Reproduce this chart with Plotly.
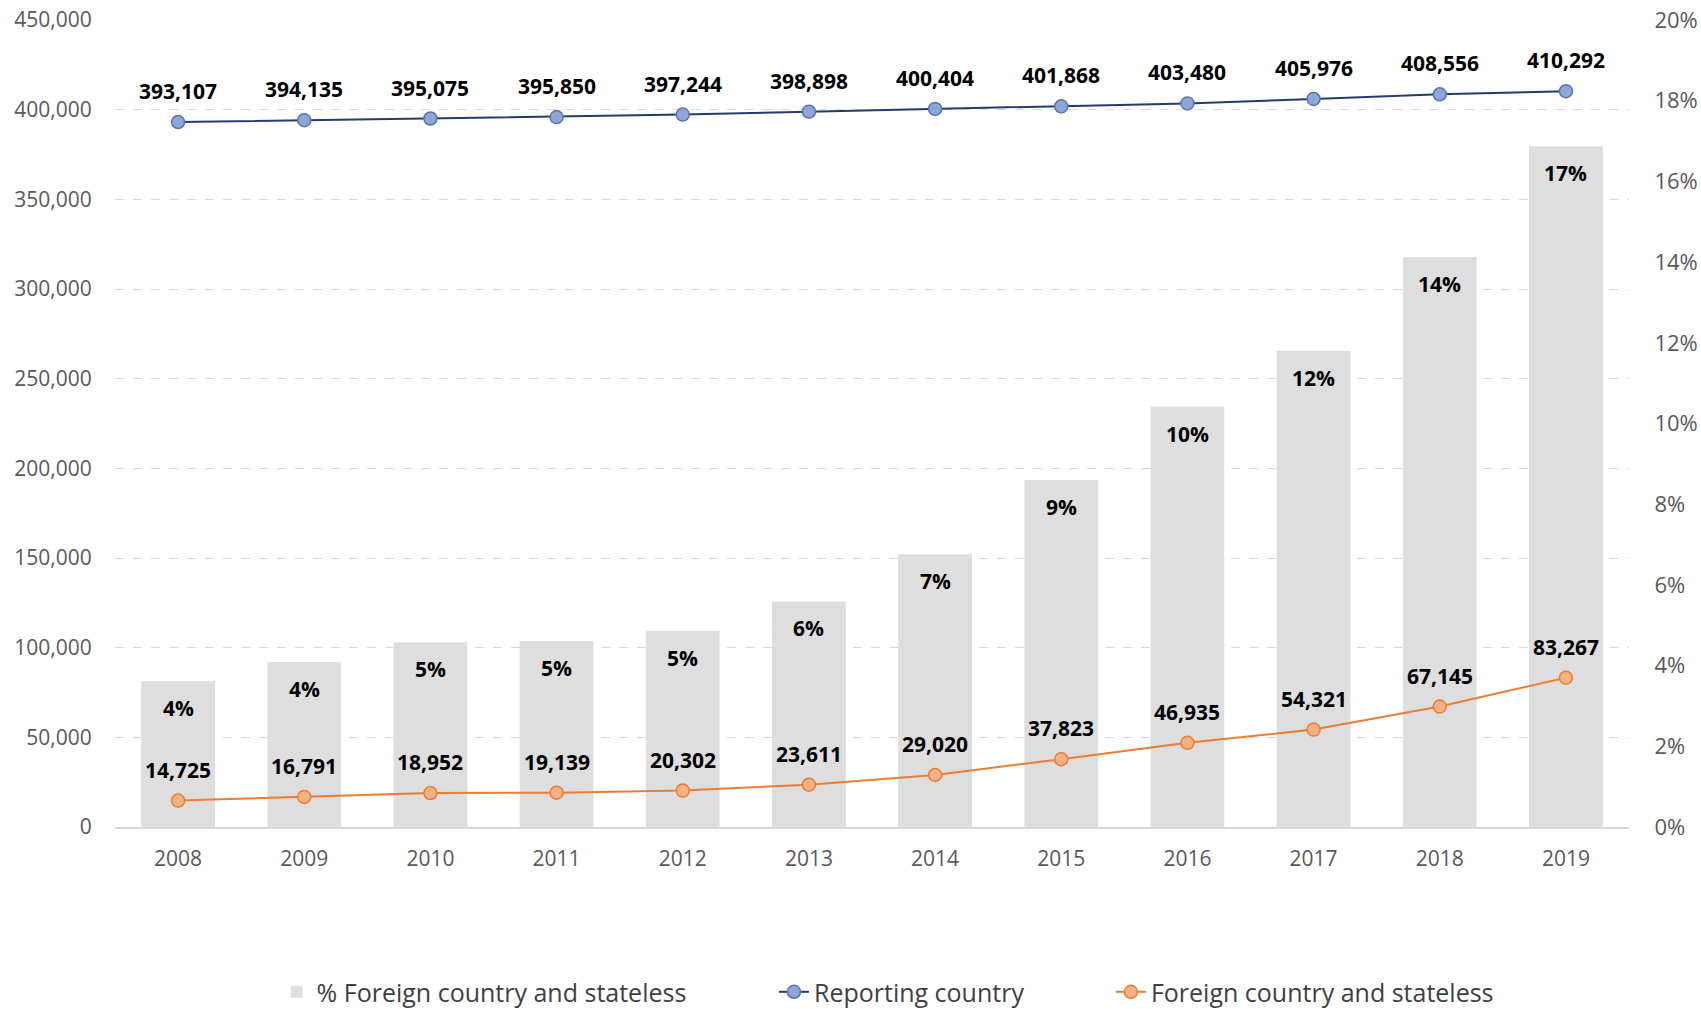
import plotly.graph_objects as go

years = ["2008", "2009", "2010", "2011", "2012", "2013", "2014", "2015", "2016", "2017", "2018", "2019"]
reporting = [393107, 394135, 395075, 395850, 397244, 398898, 400404, 401868, 403480, 405976, 408556, 410292]
foreign = [14725, 16791, 18952, 19139, 20302, 23611, 29020, 37823, 46935, 54321, 67145, 83267]
pct_foreign = [3.61, 4.09, 4.58, 4.61, 4.86, 5.59, 6.76, 8.60, 10.42, 11.80, 14.12, 16.87]

FONT = "Open Sans"
fig = go.Figure()

fig.add_trace(go.Bar(
    x=years, y=pct_foreign, name="% Foreign country and stateless",
    marker=dict(color="#DEDEDE", line=dict(width=0)),
    yaxis="y", legend="legend", hoverinfo="skip", showlegend=True,
))
fig.add_trace(go.Scatter(
    x=years, y=reporting, name="Reporting country", mode="lines+markers",
    line=dict(color="#243B6B", width=2),
    marker=dict(size=13, color="#8EA6D6", line=dict(color="#5474B4", width=1.5)),
    yaxis="y2", legend="legend2",
))
fig.add_trace(go.Scatter(
    x=years, y=foreign, name="Foreign country and stateless", mode="lines+markers",
    line=dict(color="#ED7D31", width=2),
    marker=dict(size=13, color="#F4B183", line=dict(color="#ED7D31", width=1.5)),
    yaxis="y2", legend="legend3",
))

LBL = dict(family=FONT, size=21, color="#000000")
ann = []
for i, v in enumerate(pct_foreign):
    ann.append(dict(x=i, y=v, xref="x", yref="y", text=f"<b>{round(v):d}%</b>",
                    showarrow=False, yshift=-27, font=LBL))
for i, v in enumerate(reporting):
    ann.append(dict(x=i, y=v, xref="x", yref="y2", text=f"<b>{v:,}</b>",
                    showarrow=False, yshift=31, font=LBL))
for i, v in enumerate(foreign):
    ann.append(dict(x=i, y=v, xref="x", yref="y2", text=f"<b>{v:,}</b>",
                    showarrow=False, yshift=31, font=LBL))

legfont = dict(family=FONT, size=25, color="#404040")
leg_common = dict(orientation="h", yanchor="middle", y=0.0168, yref="container",
                  xanchor="left", xref="container",
                  font=legfont, bgcolor="rgba(0,0,0,0)")

fig.update_layout(
    width=1701, height=1009,
    margin=dict(l=115, r=72, t=20, b=182, autoexpand=False),
    paper_bgcolor="white", plot_bgcolor="white",
    font=dict(family=FONT, size=20, color="#595959"),
    bargap=0.415,
    xaxis=dict(type="category", range=[-0.5, 11.5], showgrid=False, showline=True,
               linecolor="#D9D9D9", linewidth=1.5, automargin=False,
               ticks="outside", ticklen=12, tickcolor="rgba(0,0,0,0)",
               tickfont=dict(family=FONT, size=21, color="#595959")),
    yaxis=dict(side="right", range=[0, 20], dtick=2, ticksuffix="%", showgrid=False,
               zeroline=False, showline=False, ticks="outside", ticklen=20, automargin=False,
               tickcolor="rgba(0,0,0,0)", tickfont=dict(family=FONT, size=22, color="#595959")),
    yaxis2=dict(side="left", overlaying="y", range=[0, 450000], dtick=50000, tickformat=",",
                showgrid=True, gridcolor="#D9D9D9", griddash="dash", gridwidth=1.2, automargin=False,
                zeroline=False, showline=False, ticks="outside", ticklen=18,
                tickcolor="rgba(0,0,0,0)", tickfont=dict(family=FONT, size=21, color="#595959")),
    legend=dict(x=0.1626, **leg_common),
    legend2=dict(x=0.455, **leg_common),
    legend3=dict(x=0.6531, **leg_common),
    annotations=ann,
)

fig.write_html("out.html", config={"displayModeBar": False},
               post_script="document.body.style.margin='0';document.body.style.overflow='hidden';")
